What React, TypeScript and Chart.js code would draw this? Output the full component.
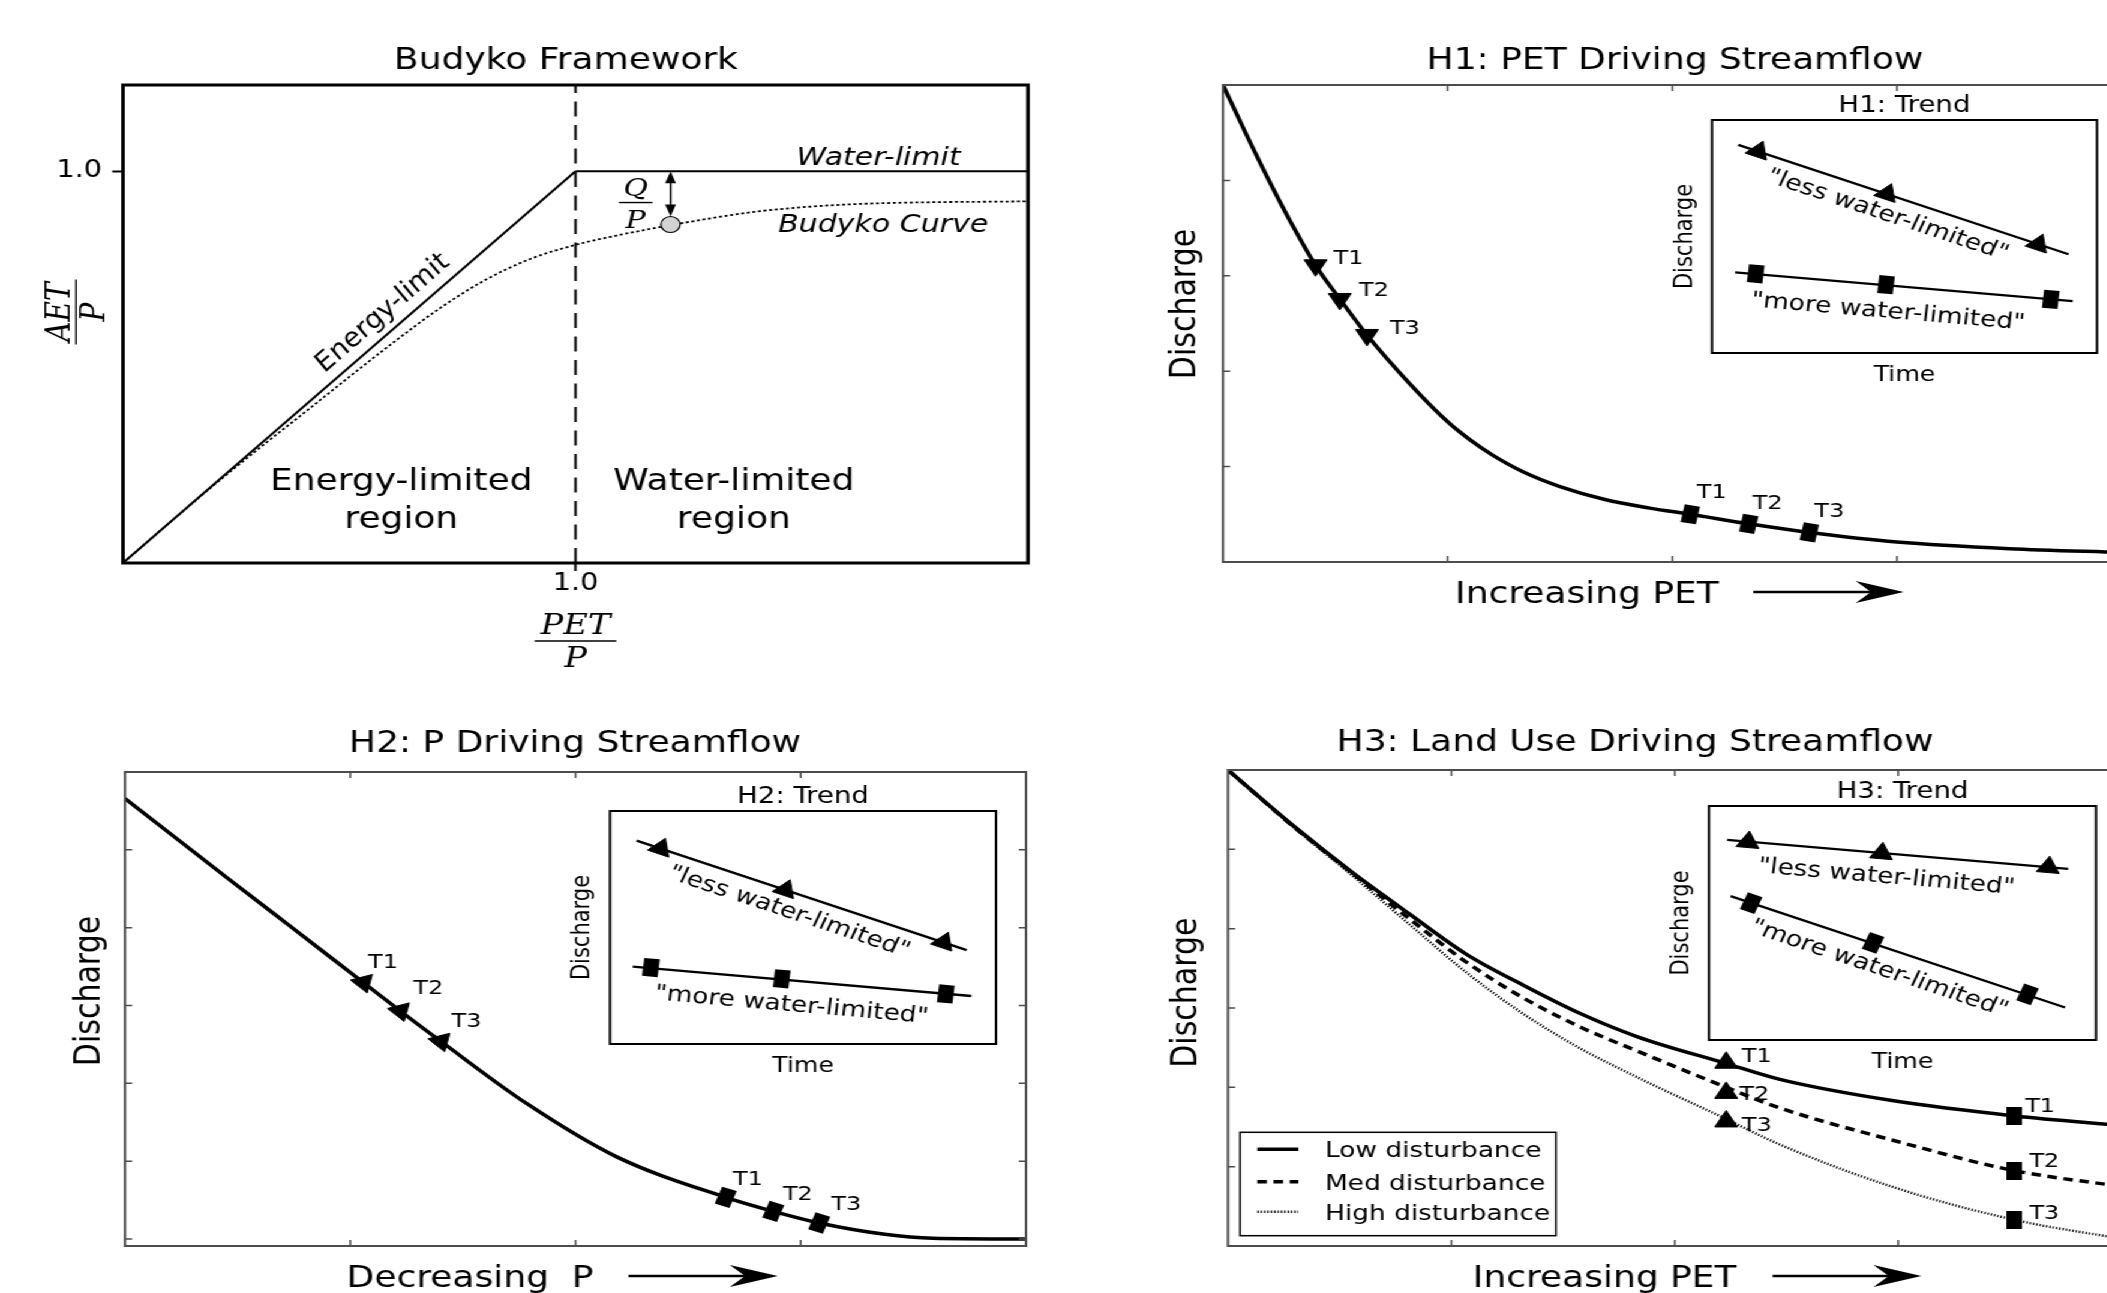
import React, { useEffect, useRef } from 'react';
import { Chart, registerables } from 'chart.js';

Chart.register(...registerables);
Chart.defaults.font.family = '"DejaVu Sans", sans-serif';
Chart.defaults.color = '#000';

/* ====================== DATA ====================== */
// Panel A – Budyko framework (x = PET/P, y = AET/P)
const energyLimitX = [0, 1];
const energyLimitY = [0, 1];
const waterLimitX = [1, 2];
const waterLimitY = [1, 1];
const dividerX = [1, 1];
const dividerY = [0, 1.22];
const budykoX = [0, 0.1, 0.2, 0.3, 0.4, 0.5, 0.6, 0.7, 0.8, 0.9, 1.0, 1.1, 1.2, 1.3, 1.4, 1.5, 1.6, 1.7, 1.8, 1.9, 2.0];
const budykoY = [0, 0.1, 0.198, 0.292, 0.383, 0.475, 0.565, 0.65, 0.722, 0.776, 0.812, 0.838, 0.86, 0.88, 0.897, 0.908, 0.915, 0.919, 0.921, 0.922, 0.923];
const catchmentX = [1.21];
const catchmentY = [0.864];
const budykoXTicks = [1.0];
const budykoYTicks = [1.0];

// Panel H1 – PET driving streamflow
const h1CurveX = [0, 0.1, 0.2, 0.3, 0.412, 0.52, 0.641, 0.835, 1.0, 1.1, 1.2, 1.34, 1.5, 1.7, 1.9, 2.08, 2.34, 2.61, 3.0, 3.5, 4.0];
const h1CurveY = [5.0, 4.5, 4.02, 3.57, 3.11, 2.757, 2.38, 1.86, 1.47, 1.28, 1.12, 0.94, 0.79, 0.655, 0.565, 0.5, 0.4, 0.31, 0.21, 0.14, 0.1];
const h1TriX = [0.412, 0.52, 0.641];
const h1TriY = [3.11, 2.757, 2.38];
const h1SqX = [2.08, 2.34, 2.61];
const h1SqY = [0.5, 0.4, 0.31];
const h1XTicks = [1, 2, 3];
const h1YTicks = [1, 2, 3, 4];
// H1 inset
const h1LessLineX = [0.683, 9.26];
const h1LessLineY = [8.93, 4.24];
const h1LessX = [1.2, 4.54, 8.47];
const h1LessY = [8.65, 6.83, 4.66];
const h1MoreLineX = [0.6, 9.37];
const h1MoreLineY = [3.46, 2.23];
const h1MoreX = [1.135, 4.52, 8.8];
const h1MoreY = [3.4, 2.93, 2.3];

// Panel H2 – P driving streamflow
const h2CurveX = [0, 0.463, 0.728, 1.058, 1.222, 1.402, 1.786, 2.183, 2.667, 2.878, 3.082, 3.373, 3.587, 4.0];
const h2CurveY = [1.132, 0.924, 0.806, 0.659, 0.586, 0.508, 0.347, 0.211, 0.107, 0.071, 0.041, 0.012, 0.002, 0];
const h2TriX = [1.058, 1.222, 1.402];
const h2TriY = [0.659, 0.586, 0.508];
const h2SqX = [2.667, 2.878, 3.082];
const h2SqY = [0.107, 0.071, 0.041];
const h2XTicks = [1, 2, 3];
const h2YTicks = [0, 0.2, 0.4, 0.6, 0.8, 1.0];
// H2 inset
const h2LessLineX = [0.69, 9.24];
const h2LessLineY = [8.73, 4.03];
const h2LessX = [1.31, 4.54, 8.64];
const h2LessY = [8.39, 6.61, 4.36];
const h2MoreLineX = [0.59, 9.36];
const h2MoreLineY = [3.32, 2.06];
const h2MoreX = [1.06, 4.45, 8.7];
const h2MoreY = [3.28, 2.8, 2.15];

// Panel H3 – land use driving streamflow
const h3X = [0, 0.3, 0.556, 0.81, 1.066, 1.32, 1.577, 1.83, 2.23, 2.47, 2.98, 3.52, 4.0];
const h3LowY = [6.0, 5.28, 4.71, 4.19, 3.68, 3.29, 2.93, 2.64, 2.3, 2.1, 1.83, 1.64, 1.52];
const h3MedY = [6.0, 5.27, 4.7, 4.13, 3.58, 3.13, 2.76, 2.46, 2.0, 1.74, 1.33, 0.95, 0.75];
const h3HighY = [6.0, 5.26, 4.67, 4.06, 3.45, 2.93, 2.49, 2.13, 1.6, 1.28, 0.74, 0.33, 0.09];
const h3TriX = [2.23, 2.23, 2.23];
const h3TriY = [2.31, 1.93, 1.57];
const h3SqX = [3.52, 3.52, 3.52];
const h3SqY = [1.64, 0.94, 0.33];
const h3XTicks = [1, 2, 3];
const h3YTicks = [1, 2, 3, 4, 5];
const h3Legend = ['Low disturbance', 'Med disturbance', 'High disturbance'];
// H3 inset
const h3LessLineX = [0.47, 9.28];
const h3LessLineY = [8.55, 7.31];
const h3LessX = [1.01, 4.46, 8.77];
const h3LessY = [8.46, 7.98, 7.39];
const h3MoreLineX = [0.56, 9.2];
const h3MoreLineY = [6.15, 1.39];
const h3MoreX = [1.09, 4.24, 8.23];
const h3MoreY = [5.85, 4.15, 1.95];

const timeLabels = ['T1', 'T2', 'T3'];

/* ====================== LAYOUT ====================== */
const S = 1.2; // the reference is stretched horizontally by about 1.2
const PAGE_W = 2107;
const PAGE_H = 1293;
const ux = (X: number) => X / S;
const SANS = '"DejaVu Sans", sans-serif';
const SERIF = '"DejaVu Serif", serif';

type Box = { x: number; y: number; w: number; h: number };
type Area = { l: number; t: number; r: number; b: number };

const budykoBox: Box = { x: 0, y: 0, w: 880, h: 685 };
const budykoArea: Area = { l: ux(123), t: 85, r: ux(1028), b: 563 };
const h1Box: Box = { x: 930, y: 0, w: 850, h: 685 };
const h1Area: Area = { l: ux(1223), t: 85, r: ux(2123), b: 562 };
const h2Box: Box = { x: 0, y: 690, w: 880, h: 603 };
const h2Area: Area = { l: ux(125), t: 772, r: ux(1026), b: 1246 };
const h3Box: Box = { x: 930, y: 690, w: 850, h: 603 };
const h3Area: Area = { l: ux(1228), t: 770, r: ux(2125), b: 1246 };
const h1InsetArea: Area = { l: ux(1712), t: 120, r: ux(2097), b: 353 };
const h2InsetArea: Area = { l: ux(610), t: 811, r: ux(996), b: 1044 };
const h3InsetArea: Area = { l: ux(1709), t: 806, r: ux(2096), b: 1040 };
const insetBox = (a: Area): Box => ({ x: Math.floor(a.l - 45), y: a.t - 45, w: Math.ceil(a.r - a.l + 60), h: a.b - a.t + 90 });

/* ====================== HELPERS ====================== */
const zip = (xs: number[], ys: number[]) => xs.map((x, i) => ({ x, y: ys[i] }));

function padFor(box: Box, area: Area) {
  return { left: area.l - box.x, top: area.t - box.y, right: box.x + box.w - area.r, bottom: box.y + box.h - area.b };
}

let rectCache: HTMLCanvasElement | null = null;
function rectMarker() {
  if (!rectCache) {
    const c = document.createElement('canvas');
    c.width = 13;
    c.height = 18;
    const g = c.getContext('2d') as CanvasRenderingContext2D;
    g.fillStyle = '#000';
    g.fillRect(0, 0, 13, 18);
    rectCache = c;
  }
  return rectCache;
}

const fontSize = (font: string) => {
  const m = /(\d+(?:\.\d+)?)px/.exec(font);
  return m ? parseFloat(m[1]) : 12;
};

function text(ctx: any, s: string, x: number, y: number, font: string, o: any = {}) {
  ctx.save();
  ctx.translate(x, y);
  if (o.rot) ctx.rotate(o.rot);
  ctx.font = font;
  ctx.fillStyle = '#000';
  ctx.textAlign = o.align || 'center';
  ctx.textBaseline = 'middle';
  ctx.fillText(s, 0, fontSize(font) * 0.1);
  ctx.restore();
}

function fraction(ctx: any, num: string, den: string, x: number, y: number, font: string, up: number, down: number, len: number, rot = 0) {
  const off = fontSize(font) * 0.1;
  ctx.save();
  ctx.translate(x, y);
  ctx.rotate(rot);
  ctx.font = font;
  ctx.fillStyle = '#000';
  ctx.textAlign = 'center';
  ctx.textBaseline = 'middle';
  ctx.fillText(num, 0, -up + off);
  ctx.fillText(den, 0, down + off);
  ctx.strokeStyle = '#000';
  ctx.lineWidth = 1.4;
  ctx.setLineDash([]);
  ctx.beginPath();
  ctx.moveTo(-len / 2, 0);
  ctx.lineTo(len / 2, 0);
  ctx.stroke();
  ctx.restore();
}

function frame(chart: any, color: string, lw: number) {
  const a = chart.chartArea;
  const ctx = chart.ctx;
  ctx.save();
  ctx.setLineDash([]);
  ctx.strokeStyle = color;
  ctx.lineWidth = lw;
  ctx.strokeRect(a.left, a.top, a.right - a.left, a.bottom - a.top);
  ctx.restore();
}

function inwardTicks(chart: any, len: number, color: string, lw: number) {
  const a = chart.chartArea;
  const ctx = chart.ctx;
  const sx = chart.scales.x;
  const sy = chart.scales.y;
  ctx.save();
  ctx.setLineDash([]);
  ctx.strokeStyle = color;
  ctx.lineWidth = lw;
  ctx.beginPath();
  sx.ticks.forEach((t: any) => {
    const p = sx.getPixelForValue(t.value);
    ctx.moveTo(p, a.bottom); ctx.lineTo(p, a.bottom - len);
    ctx.moveTo(p, a.top); ctx.lineTo(p, a.top + len);
  });
  sy.ticks.forEach((t: any) => {
    const p = sy.getPixelForValue(t.value);
    ctx.moveTo(a.left, p); ctx.lineTo(a.left + len, p);
    ctx.moveTo(a.right, p); ctx.lineTo(a.right - len, p);
  });
  ctx.stroke();
  ctx.restore();
}

function axisArrow(ctx: any, x1: number, x2: number, y: number) {
  const L = 40, hw = 11;
  ctx.save();
  ctx.setLineDash([]);
  ctx.strokeStyle = '#000';
  ctx.fillStyle = '#000';
  ctx.lineWidth = 2.5;
  ctx.beginPath();
  ctx.moveTo(x1, y);
  ctx.lineTo(x2 - L * 0.6, y);
  ctx.stroke();
  ctx.beginPath();
  ctx.moveTo(x2, y);
  ctx.lineTo(x2 - L, y - hw);
  ctx.lineTo(x2 - L * 0.68, y);
  ctx.lineTo(x2 - L, y + hw);
  ctx.closePath();
  ctx.fill();
  ctx.restore();
}

function doubleArrowV(ctx: any, x: number, y1: number, y2: number) {
  const L = 12, hw = 4.5;
  ctx.save();
  ctx.setLineDash([]);
  ctx.strokeStyle = '#000';
  ctx.fillStyle = '#000';
  ctx.lineWidth = 1.5;
  ctx.beginPath();
  ctx.moveTo(x, y1 + L * 0.5);
  ctx.lineTo(x, y2 - L * 0.5);
  ctx.stroke();
  ctx.beginPath();
  ctx.moveTo(x, y1); ctx.lineTo(x - hw, y1 + L); ctx.lineTo(x + hw, y1 + L); ctx.closePath();
  ctx.moveTo(x, y2); ctx.lineTo(x - hw, y2 - L); ctx.lineTo(x + hw, y2 - L); ctx.closePath();
  ctx.fill();
  ctx.restore();
}

function markerLabels(chart: any, dsIndex: number, dx: number[], dy: number[]) {
  const meta = chart.getDatasetMeta(dsIndex);
  meta.data.forEach((pt: any, i: number) => {
    text(chart.ctx, timeLabels[i], pt.x + dx[i], pt.y + dy[i], `20px ${SANS}`, { align: 'left' });
  });
}

function lineAngle(chart: any, lx: number[], ly: number[]) {
  const sx = chart.scales.x;
  const sy = chart.scales.y;
  return Math.atan2(sy.getPixelForValue(ly[1]) - sy.getPixelForValue(ly[0]), sx.getPixelForValue(lx[1]) - sx.getPixelForValue(lx[0]));
}

const curve = (xs: number[], ys: number[], extra: any = {}) => ({
  data: zip(xs, ys), showLine: true, pointRadius: 0, pointHoverRadius: 0,
  borderColor: '#000', backgroundColor: '#000', borderWidth: 3.5, fill: false,
  cubicInterpolationMode: 'monotone', ...extra,
});
const straight = (xs: number[], ys: number[], extra: any = {}) => curve(xs, ys, { cubicInterpolationMode: 'default', tension: 0, ...extra });
const triMarks = (xs: number[], ys: number[], rot: any) => ({
  data: zip(xs, ys), showLine: false, pointStyle: 'triangle', pointRadius: 11,
  pointBackgroundColor: '#000', pointBorderColor: '#000', pointBorderWidth: 1, pointRotation: rot,
});
const rectMarks = (xs: number[], ys: number[], rot: any) => ({
  data: zip(xs, ys), showLine: false, pointStyle: rectMarker(), pointRadius: 9, pointRotation: rot,
});

const hiddenAxis = (min: number, max: number, ticks: number[]) => ({
  type: 'linear', min, max,
  afterBuildTicks: (ax: any) => { ax.ticks = ticks.map((v) => ({ value: v })); },
  ticks: { display: false },
  grid: { display: false, drawTicks: false },
  border: { display: false },
});

function baseOptions(padding: any, scales: any, plugins: any = {}) {
  return {
    animation: false, responsive: false, maintainAspectRatio: false, events: [],
    layout: { padding },
    plugins: { legend: { display: false }, tooltip: { enabled: false }, title: { display: false }, ...plugins },
    scales,
  };
}

/* ====================== CHART BUILDERS ====================== */
function buildBudyko() {
  const box = budykoBox;
  const yW = 60, xH = 60;
  const pad = padFor(box, budykoArea);
  pad.left -= yW;
  pad.bottom -= xH;
  const tickAxis = (min: number, max: number, ticks: number[], len: number, padding: number, fit: (a: any) => void) => ({
    type: 'linear', min, max,
    afterBuildTicks: (ax: any) => { ax.ticks = ticks.map((v) => ({ value: v })); },
    afterFit: fit,
    ticks: { display: true, autoSkip: false, maxRotation: 0, padding, color: '#000', font: { size: 24, family: SANS }, callback: (v: any) => Number(v).toFixed(1) },
    grid: { display: true, drawOnChartArea: false, drawTicks: true, tickLength: len, tickWidth: 2, tickColor: '#000', color: '#000' },
    border: { display: false },
  });
  return {
    type: 'scatter',
    data: {
      datasets: [
        { data: zip(catchmentX, catchmentY), showLine: false, pointStyle: 'circle', pointRadius: 8, pointBackgroundColor: '#d3d3d3', pointBorderColor: '#000', pointBorderWidth: 1.2 },
        curve(budykoX, budykoY, { borderWidth: 1.8, borderDash: [2.5, 2.2] }),
        straight(energyLimitX, energyLimitY, { borderWidth: 2 }),
        straight(waterLimitX, waterLimitY, { borderWidth: 2 }),
        straight(dividerX, dividerY, { borderWidth: 2, borderDash: [15, 8.5] }),
      ],
    },
    options: baseOptions(pad, {
      x: tickAxis(0, 2, budykoXTicks, 8, -2, (ax: any) => { ax.height = xH; }),
      y: tickAxis(0, 1.22, budykoYTicks, 9, 8.4, (ax: any) => { ax.width = yW; }),
    }),
    plugins: [{
      id: 'budykoAnn',
      afterDraw(chart: any) {
        const ctx = chart.ctx;
        const sx = chart.scales.x, sy = chart.scales.y;
        const px = (v: number) => sx.getPixelForValue(v);
        const py = (v: number) => sy.getPixelForValue(v);
        const P = (X: number) => ux(X) - box.x;
        const Q = (Y: number) => Y - box.y;
        frame(chart, '#000', 3);
        text(ctx, 'Budyko Framework', P(566), Q(58), `30px ${SANS}`);
        text(ctx, 'Energy-limited', px(0.615), py(0.213), `30px ${SANS}`);
        text(ctx, 'region', px(0.615), py(0.117), `30px ${SANS}`);
        text(ctx, 'Water-limited', px(1.35), py(0.213), `30px ${SANS}`);
        text(ctx, 'region', px(1.35), py(0.117), `30px ${SANS}`);
        text(ctx, 'Water-limit', px(1.67), py(1.038), `italic 25px ${SANS}`);
        text(ctx, 'Budyko Curve', px(1.68), py(0.868), `italic 25px ${SANS}`);
        const ang = Math.atan2(py(energyLimitY[1]) - py(energyLimitY[0]), px(energyLimitX[1]) - px(energyLimitX[0]));
        text(ctx, 'Energy-limit', px(0.57), py(0.642), `italic 25px ${SANS}`, { rot: ang });
        doubleArrowV(ctx, px(catchmentX[0]), py(1.0), py(catchmentY[0]) - 8);
        fraction(ctx, 'Q', 'P', px(1.133), py(0.92), `italic 25px ${SERIF}`, 16, 16.5, 28);
        fraction(ctx, 'PET', 'P', px(1.0), Q(641), `italic 28px ${SERIF}`, 17, 16, 68);
        fraction(ctx, 'AET', 'P', P(76), Q(312), `italic 28px ${SERIF}`, 15, 13.4, 65, -Math.PI / 2);
      },
    }],
  };
}

type MainSpec = {
  id: string; box: Box; area: Area; xDom: [number, number]; yDom: [number, number];
  xTicks: number[]; yTicks: number[]; datasets: any[];
  title: string; titleAt: [number, number]; ylabelAt: [number, number];
  xlabel: string; xlabelAt: number; arrow: [number, number]; xlabelY: number;
  labels: { ds: number; dx: number[]; dy: number[] }[];
  legend?: { ds: number[]; names: string[] };
};

function buildMain(sp: MainSpec) {
  const box = sp.box;
  return {
    type: 'scatter',
    data: { datasets: sp.datasets },
    options: baseOptions(padFor(box, sp.area), {
      x: hiddenAxis(sp.xDom[0], sp.xDom[1], sp.xTicks),
      y: hiddenAxis(sp.yDom[0], sp.yDom[1], sp.yTicks),
    }),
    plugins: [{
      id: sp.id,
      afterDraw(chart: any) {
        const ctx = chart.ctx;
        const sx = chart.scales.x;
        const P = (X: number) => ux(X) - box.x;
        const Q = (Y: number) => Y - box.y;
        frame(chart, '#4d4d4d', 2);
        inwardTicks(chart, 6, '#4d4d4d', 1.5);
        text(ctx, sp.title, P(sp.titleAt[0]), Q(sp.titleAt[1]), `30px ${SANS}`);
        text(ctx, 'Discharge', P(sp.ylabelAt[0]), Q(sp.ylabelAt[1]), `30px ${SANS}`, { rot: -Math.PI / 2 });
        text(ctx, sp.xlabel, sx.getPixelForValue(sp.xlabelAt), Q(sp.xlabelY), `30px ${SANS}`);
        axisArrow(ctx, sx.getPixelForValue(sp.arrow[0]), sx.getPixelForValue(sp.arrow[1]), Q(sp.xlabelY));
        sp.labels.forEach((l) => markerLabels(chart, l.ds, l.dx, l.dy));
        if (sp.legend) {
          const a = chart.chartArea;
          const lw = 263.3, lh = 103.4;
          const lx = a.left + 10, ly = a.bottom - 10.3 - lh;
          ctx.save();
          ctx.setLineDash([]);
          ctx.fillStyle = '#fff';
          ctx.fillRect(lx, ly, lw, lh);
          ctx.strokeStyle = '#000';
          ctx.lineWidth = 1.5;
          ctx.strokeRect(lx, ly, lw, lh);
          const rows = [17, 49.4, 79.4];
          sp.legend.ds.forEach((di, i) => {
            const ds = chart.data.datasets[di];
            ctx.save();
            ctx.strokeStyle = '#000';
            ctx.lineWidth = ds.borderWidth;
            ctx.setLineDash(ds.borderDash || []);
            ctx.beginPath();
            ctx.moveTo(lx + 14.4, ly + rows[i]);
            ctx.lineTo(lx + 48.6, ly + rows[i]);
            ctx.stroke();
            ctx.restore();
            text(ctx, sp.legend!.names[i], lx + 70.8, ly + rows[i], `22px ${SANS}`, { align: 'left' });
          });
          ctx.restore();
        }
      },
    }],
  };
}

type InsetSpec = {
  id: string; area: Area; title: string;
  lessLineX: number[]; lessLineY: number[]; lessX: number[]; lessY: number[];
  moreLineX: number[]; moreLineY: number[]; moreX: number[]; moreY: number[];
  lessText: [number, number]; moreText: [number, number];
};

function buildInset(sp: InsetSpec) {
  const box = insetBox(sp.area);
  const area = sp.area;
  const lhT = 23 * 1.2, lhA = 21 * 1.2;
  const tpb = 0;
  const tpt = area.t - box.y - lhT - tpb;
  const yPadB = 9.9, yW = lhA + yPadB;
  const xPadT = 9.5, xH = lhA + xPadT;
  const axis = (title: string, padding: any) => ({
    type: 'linear', min: 0, max: 10,
    ticks: { display: false }, grid: { display: false, drawTicks: false }, border: { display: false },
    title: { display: true, text: title, color: '#000', font: { size: 21, family: SANS }, padding },
  });
  return {
    type: 'scatter',
    data: {
      datasets: [
        triMarks(sp.lessX, sp.lessY, (c: any) => lineAngle(c.chart, sp.lessLineX, sp.lessLineY) * 180 / Math.PI),
        rectMarks(sp.moreX, sp.moreY, (c: any) => lineAngle(c.chart, sp.moreLineX, sp.moreLineY) * 180 / Math.PI),
        straight(sp.lessLineX, sp.lessLineY, { borderWidth: 2.3 }),
        straight(sp.moreLineX, sp.moreLineY, { borderWidth: 2.3 }),
      ],
    },
    options: baseOptions(
      { left: area.l - box.x - yW, right: box.x + box.w - area.r, top: 0, bottom: box.y + box.h - area.b - xH },
      { x: axis('Time', { top: xPadT, bottom: 0 }), y: axis('Discharge', { top: 0, bottom: yPadB }) },
      { title: { display: true, text: sp.title, fullSize: false, color: '#000', font: { size: 23, family: SANS, weight: 'normal' }, padding: { top: tpt, bottom: tpb } } },
    ),
    plugins: [{
      id: sp.id,
      afterDraw(chart: any) {
        const sx = chart.scales.x, sy = chart.scales.y;
        frame(chart, '#000', 2);
        text(chart.ctx, '"less water-limited"', sx.getPixelForValue(sp.lessText[0]), sy.getPixelForValue(sp.lessText[1]), `22px ${SANS}`, { rot: lineAngle(chart, sp.lessLineX, sp.lessLineY) });
        text(chart.ctx, '"more water-limited"', sx.getPixelForValue(sp.moreText[0]), sy.getPixelForValue(sp.moreText[1]), `22px ${SANS}`, { rot: lineAngle(chart, sp.moreLineX, sp.moreLineY) });
      },
    }],
  };
}

const buildH1 = () => buildMain({
  id: 'h1Ann', box: h1Box, area: h1Area, xDom: [0, 4], yDom: [0, 5], xTicks: h1XTicks, yTicks: h1YTicks,
  datasets: [triMarks(h1TriX, h1TriY, 180), rectMarks(h1SqX, h1SqY, 11), curve(h1CurveX, h1CurveY)],
  title: 'H1: PET Driving Streamflow', titleAt: [1675, 58], ylabelAt: [1182.5, 304],
  xlabel: 'Increasing PET', xlabelAt: 1.62, arrow: [2.36, 3.03], xlabelY: 592,
  labels: [{ ds: 0, dx: [15, 16, 19], dy: [-9, -10, -8] }, { ds: 1, dx: [5.4, 3.3, 4.2], dy: [-24, -22, -23] }],
});

const buildH2 = () => buildMain({
  id: 'h2Ann', box: h2Box, area: h2Area, xDom: [0, 4], yDom: [-0.018, 1.2], xTicks: h2XTicks, yTicks: h2YTicks,
  datasets: [triMarks(h2TriX, h2TriY, 283), rectMarks(h2SqX, h2SqY, 20), curve(h2CurveX, h2CurveY)],
  title: 'H2: P Driving Streamflow', titleAt: [575, 741], ylabelAt: [86.6, 991],
  xlabel: 'Decreasing  P', xlabelAt: 1.532, arrow: [2.235, 2.898], xlabelY: 1276,
  labels: [{ ds: 0, dx: [4, 11, 9], dy: [-22, -24, -22] }, { ds: 1, dx: [6, 8, 10], dy: [-20, -19, -20] }],
});

const buildH3 = () => buildMain({
  id: 'h3Ann', box: h3Box, area: h3Area, xDom: [0, 4], yDom: [0, 6], xTicks: h3XTicks, yTicks: h3YTicks,
  datasets: [
    triMarks(h3TriX, h3TriY, 0), rectMarks(h3SqX, h3SqY, 0),
    curve(h3X, h3LowY, { borderWidth: 3.5 }),
    curve(h3X, h3MedY, { borderWidth: 3.5, borderDash: [8, 5.5] }),
    curve(h3X, h3HighY, { borderWidth: 2.4, borderDash: [1.2, 1.6] }),
  ],
  title: 'H3: Land Use Driving Streamflow', titleAt: [1635, 740], ylabelAt: [1183, 992.6],
  xlabel: 'Increasing PET', xlabelAt: 1.686, arrow: [2.438, 3.104], xlabelY: 1276,
  labels: [{ ds: 0, dx: [13, 11, 13], dy: [-8, 0, 2] }, { ds: 1, dx: [9, 12.5, 12.5], dy: [-11, -12, -8] }],
  legend: { ds: [2, 3, 4], names: h3Legend },
});

const buildH1Inset = () => buildInset({
  id: 'h1Inset', area: h1InsetArea, title: 'H1: Trend',
  lessLineX: h1LessLineX, lessLineY: h1LessLineY, lessX: h1LessX, lessY: h1LessY,
  moreLineX: h1MoreLineX, moreLineY: h1MoreLineY, moreX: h1MoreX, moreY: h1MoreY,
  lessText: [4.58, 6.0], moreText: [4.58, 1.85],
});
const buildH2Inset = () => buildInset({
  id: 'h2Inset', area: h2InsetArea, title: 'H2: Trend',
  lessLineX: h2LessLineX, lessLineY: h2LessLineY, lessX: h2LessX, lessY: h2LessY,
  moreLineX: h2MoreLineX, moreLineY: h2MoreLineY, moreX: h2MoreX, moreY: h2MoreY,
  lessText: [4.66, 5.75], moreText: [4.71, 1.75],
});
const buildH3Inset = () => buildInset({
  id: 'h3Inset', area: h3InsetArea, title: 'H3: Trend',
  lessLineX: h3LessLineX, lessLineY: h3LessLineY, lessX: h3LessX, lessY: h3LessY,
  moreLineX: h3MoreLineX, moreLineY: h3MoreLineY, moreX: h3MoreX, moreY: h3MoreY,
  lessText: [4.59, 7.05], moreText: [4.42, 3.13],
});

/* ====================== COMPONENTS ====================== */
function ChartCanvas({ box, build }: { box: Box; build: () => any }) {
  const ref = useRef<HTMLCanvasElement | null>(null);
  useEffect(() => {
    if (!ref.current) return;
    const chart = new Chart(ref.current, build());
    return () => chart.destroy();
  }, []);
  return (
    <canvas
      ref={ref}
      width={box.w}
      height={box.h}
      style={{ position: 'absolute', left: box.x, top: box.y, width: box.w, height: box.h }}
    />
  );
}

export default function App() {
  useEffect(() => {
    document.body.style.margin = '0';
    document.body.style.overflow = 'hidden';
  }, []);
  return (
    <div style={{ position: 'absolute', left: 0, top: 0, width: PAGE_W, height: PAGE_H, overflow: 'hidden', background: '#fff' }}>
      <div style={{ position: 'absolute', left: 0, top: 0, width: Math.ceil(PAGE_W / S), height: PAGE_H, transform: `scaleX(${S})`, transformOrigin: '0 0' }}>
        <ChartCanvas box={budykoBox} build={buildBudyko} />
        <ChartCanvas box={h1Box} build={buildH1} />
        <ChartCanvas box={h2Box} build={buildH2} />
        <ChartCanvas box={h3Box} build={buildH3} />
        <ChartCanvas box={insetBox(h1InsetArea)} build={buildH1Inset} />
        <ChartCanvas box={insetBox(h2InsetArea)} build={buildH2Inset} />
        <ChartCanvas box={insetBox(h3InsetArea)} build={buildH3Inset} />
      </div>
    </div>
  );
}
